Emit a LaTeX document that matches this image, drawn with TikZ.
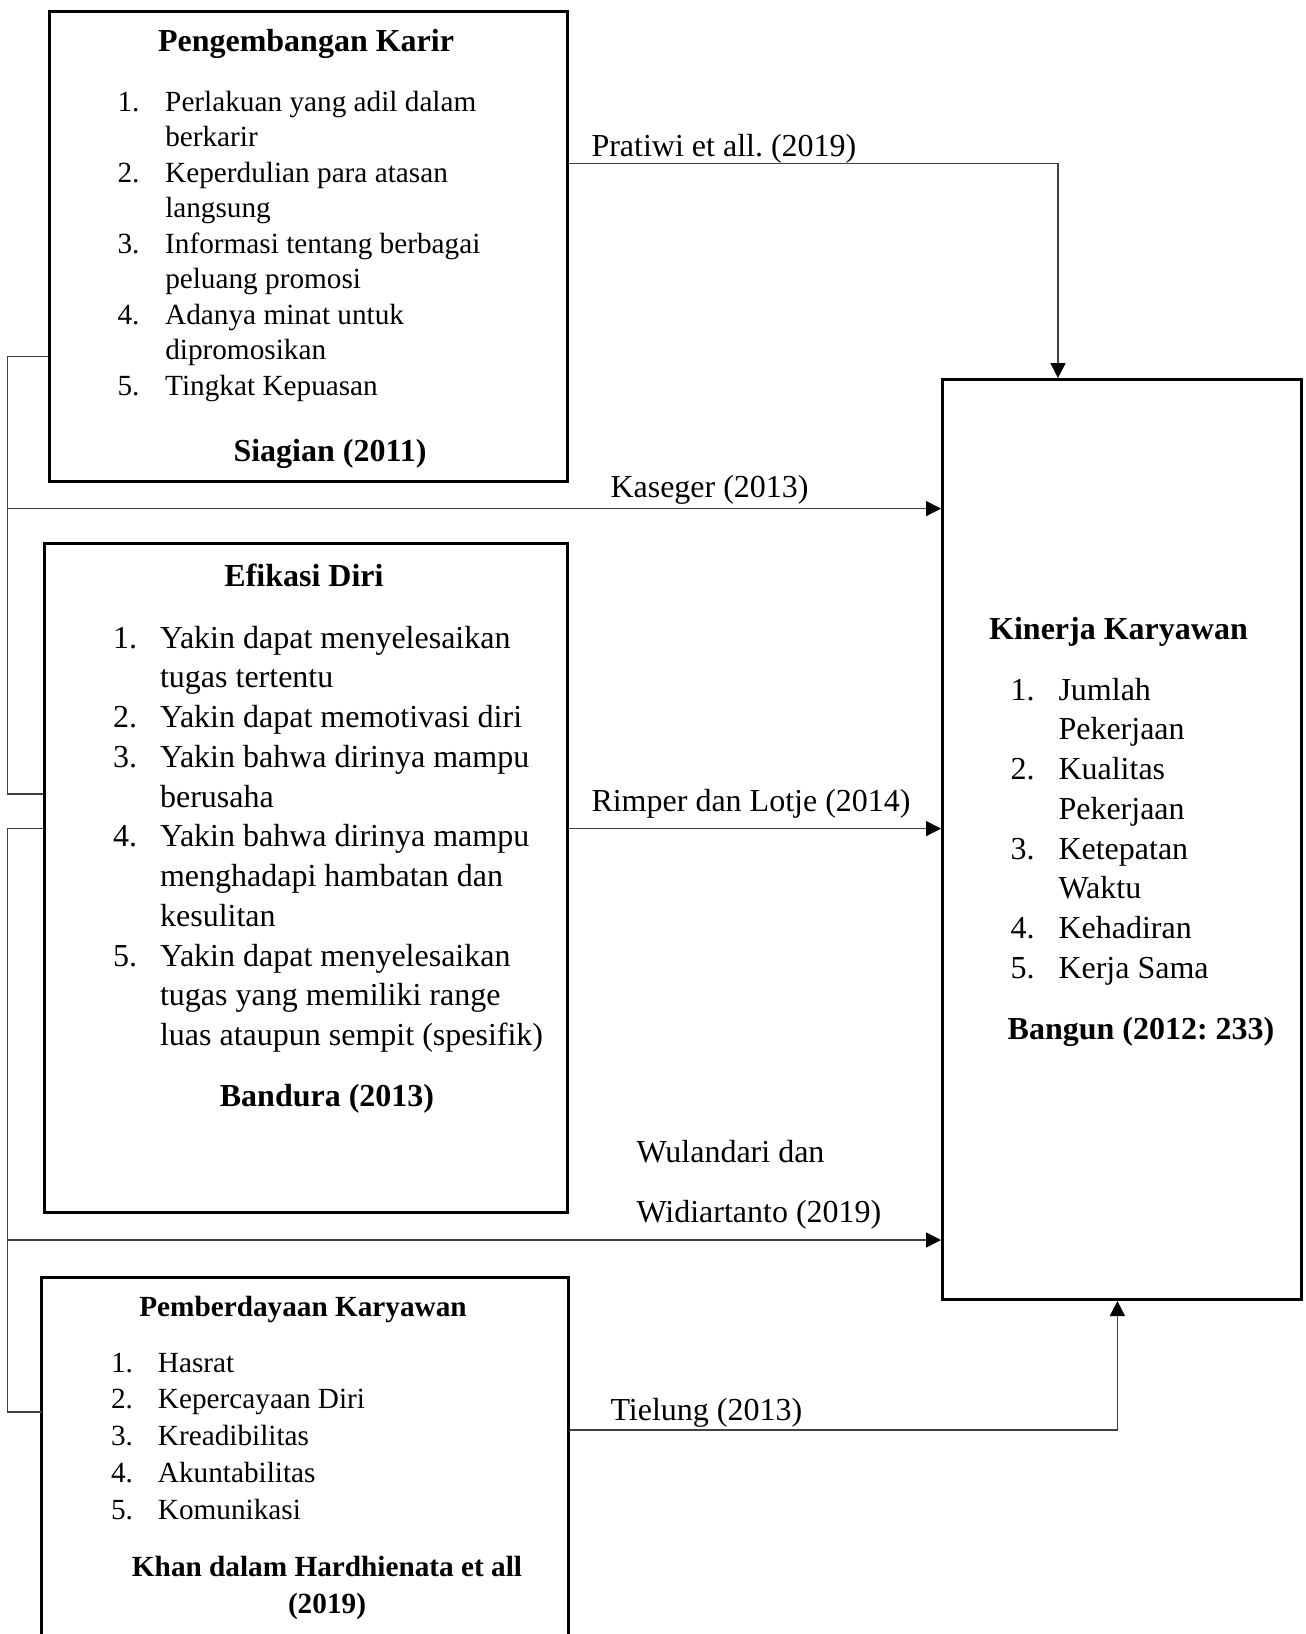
\documentclass[tikz,border=0pt]{standalone}
\usepackage{fontspec}
\setmainfont{Liberation Serif}
\usetikzlibrary{arrows.meta}
\frenchspacing
\newcommand{\txtL}{\fontsize{12.8}{15.9}\selectfont}
\newcommand{\txtS}{\fontsize{11.7}{14.2}\selectfont}
\tikzset{
  box/.style={draw, line width=1.2pt, inner sep=0pt, anchor=north west},
  link/.style={draw=black!75, line width=0.6pt},
  tip/.style={-{Triangle[length=6pt,width=6pt,color=black]}},
  head/.style={font=\txtL\bfseries, inner sep=0pt, anchor=base},
  lbl/.style={font=\txtL, inner sep=0pt, anchor=base west},
  items/.style={inner sep=0pt, anchor=base west},
}
\begin{document}
\begin{tikzpicture}[x=0.4pt, y=-0.4pt]
      \useasboundingbox (0,0) rectangle (1306,1634);
      % boxes
      \node[box, minimum width=207.2pt, minimum height=188pt] (karir) at (48,10.4) {};
      \node[box, minimum width=209.3pt, minimum height=267.6pt] (efikasi) at (42.7,542) {};
      \node[box, draw=none, minimum width=209.7pt, minimum height=145.2pt] (pember) at (41.7,1277) {};
      \draw[line width=1.2pt] (pember.south west) -- (pember.north west) -- (pember.north east) -- (pember.south east);
      \node[box, minimum width=143.6pt, minimum height=368pt] (kinerja) at (941,378) {};

      % Pengembangan Karir
      \node[head] (karirtitle) at (306,51) {Pengembangan Karir};
      \node[items, font=\txtS] (karirlist) at (117,111) {\begin{tabular}[t]{@{}p{19.1pt}@{}l@{}}
        1. & Perlakuan yang adil dalam\\
           & berkarir\\
        2. & Keperdulian para atasan\\
           & langsung\\
        3. & Informasi tentang berbagai\\
           & peluang promosi\\
        4. & Adanya minat untuk\\
           & dipromosikan\\
        5. & Tingkat Kepuasan
      \end{tabular}};
      \node[head] (karirsrc) at (330,461) {Siagian (2011)};

      % Efikasi Diri
      \node[head] (efikasititle) at (304,586) {Efikasi Diri};
      \node[items, font=\txtL] (efikasilist) at (112.6,648) {\begin{tabular}[t]{@{}p{18.8pt}@{}l@{}}
        1. & Yakin dapat menyelesaikan\\
           & tugas tertentu\\
        2. & Yakin dapat memotivasi diri\\
        3. & Yakin bahwa dirinya mampu\\
           & berusaha\\
        4. & Yakin bahwa dirinya mampu\\
           & menghadapi hambatan dan\\
           & kesulitan\\
        5. & Yakin dapat menyelesaikan\\
           & tugas yang memiliki range\\
           & luas ataupun sempit (spesifik)
      \end{tabular}};
      \node[head] (efikasisrc) at (327,1106.5) {Bandura (2013)};

      % Pemberdayaan Karyawan
      \node[head, font=\txtS\bfseries] (pembertitle) at (303,1316) {Pemberdayaan Karyawan};
      \node[items, font=\fontsize{11.7}{14.7}\selectfont] (pemberlist) at (110.5,1372) {\begin{tabular}[t]{@{}p{18.8pt}@{}l@{}}
        1. & Hasrat\\
        2. & Kepercayaan Diri\\
        3. & Kreadibilitas\\
        4. & Akuntabilitas\\
        5. & Komunikasi
      \end{tabular}};
      \node[font=\fontsize{11.7}{14.6}\selectfont\bfseries, inner sep=0pt, align=center] (pembersrc) at (327,1588) {Khan dalam Hardhienata et all\\(2019)};

      % Kinerja Karyawan
      \node[head] (kinerjatitle) at (1118.5,639) {Kinerja Karyawan};
      \node[items, font=\txtL] (kinerjalist) at (1010,700) {\begin{tabular}[t]{@{}p{19.2pt}@{}l@{}}
        1. & Jumlah\\
           & Pekerjaan\\
        2. & Kualitas\\
           & Pekerjaan\\
        3. & Ketepatan\\
           & Waktu\\
        4. & Kehadiran\\
        5. & Kerja Sama
      \end{tabular}};
      \node[head] (kinerjasrc) at (1141,1039) {Bangun (2012: 233)};

      % connectors
      \coordinate (pra) at (1058,163.6);
      \coordinate (brA) at (7.5,356.5);
      \coordinate (brB) at (7.5,794);
      \coordinate (kas) at (7.5,508.6);
      \coordinate (brC) at (7.5,828.6);
      \coordinate (brD) at (7.5,1412);
      \coordinate (wul) at (7.5,1240);
      \coordinate (tie) at (1117.4,1430);

      \draw[link, tip] (karir.east |- pra) -| (kinerja.north -| pra);
      \draw[link] (karir.west |- brA) -- (brA) -- (brB) -- (efikasi.west |- brB);
      \draw[link, tip] (kas) -- (kinerja.west |- kas);
      \draw[link] (efikasi.west |- brC) -- (brC) -- (brD) -- (pember.west |- brD);
      \draw[link, tip] (efikasi.east |- brC) -- (kinerja.west |- brC);
      \draw[link, tip] (wul) -- (kinerja.west |- wul);
      \draw[link, tip] (pember.east |- tie) -| (kinerja.south -| tie);

      % connector labels
      \node[lbl] (pralbl) at (591,156) {Pratiwi et all. (2019)};
      \node[lbl] (kaslbl) at (610,497) {Kaseger (2013)};
      \node[lbl] (rimlbl) at (591,811) {Rimper dan Lotje (2014)};
      \node[lbl] (wullbl) at (636,1162) {Wulandari dan};
      \node[lbl] (widlbl) at (636,1222) {Widiartanto (2019)};
      \node[lbl] (tielbl) at (610,1420) {Tielung (2013)};
\end{tikzpicture}
\end{document}
